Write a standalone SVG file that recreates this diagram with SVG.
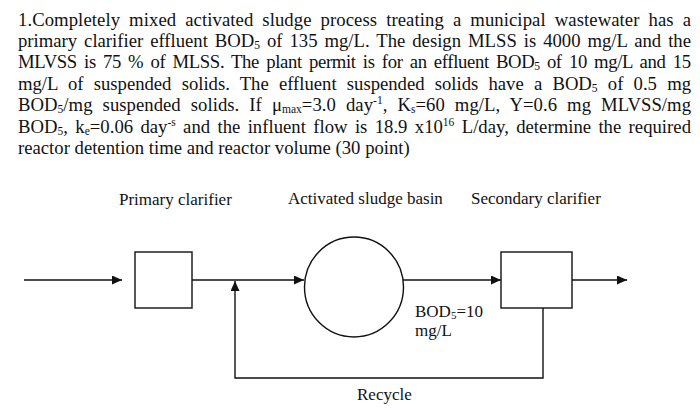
<svg xmlns="http://www.w3.org/2000/svg" width="700" height="410" viewBox="0 0 700 410">
<style>
.t{font-family:"Liberation Serif","Times New Roman",serif;font-size:18.7px;fill:#111}
.l{font-family:"Liberation Serif","Times New Roman",serif;font-size:17px;fill:#111}
.sub{font-size:11.5px}
.ln{fill:none;stroke:#111;stroke-width:1.4}
.box{fill:#fff;stroke:#111;stroke-width:1.4}
</style>
<defs>
<marker id="ah" markerUnits="userSpaceOnUse" markerWidth="10" markerHeight="9" refX="10" refY="4.5" orient="auto" viewBox="0 0 10 9">
<path d="M0,0 L10,4.5 L0,9 z" fill="#111"/>
</marker>
</defs>
<rect width="700" height="410" fill="#fff"/>
<g id="question">
<text class="t" x="18" y="26" word-spacing="4.3" textLength="673" lengthAdjust="spacing">1.Completely mixed activated sludge process treating a municipal wastewater has a</text>
<text class="t" x="18" y="47" word-spacing="2.3" textLength="673" lengthAdjust="spacing">primary clarifier effluent BOD<tspan class="sub" dy="2">5</tspan><tspan dy="-2"> of 135 mg/L. The design MLSS is 4000 mg/L and the</tspan></text>
<text class="t" x="18" y="68" word-spacing="2.8" textLength="673" lengthAdjust="spacing">MLVSS is 75 % of MLSS. The plant permit is for an effluent BOD<tspan class="sub" dy="2">5</tspan><tspan dy="-2"> of 10 mg/L and 15</tspan></text>
<text class="t" x="18" y="89.5" word-spacing="5.6" textLength="673" lengthAdjust="spacing">mg/L of suspended solids. The effluent suspended solids have a BOD<tspan class="sub" dy="2">5</tspan><tspan dy="-2"> of 0.5 mg</tspan></text>
<text class="t" x="18" y="111" word-spacing="5.3" textLength="673" lengthAdjust="spacing">BOD<tspan class="sub" dy="2">5</tspan><tspan dy="-2">/mg suspended solids. If μ</tspan><tspan class="sub" dy="2">max</tspan><tspan dy="-2">=3.0 day</tspan><tspan class="sub" dy="-7">-1</tspan><tspan dy="7">, K</tspan><tspan class="sub" dy="2">s</tspan><tspan dy="-2">=60 mg/L, Y=0.6 mg MLVSS/mg</tspan></text>
<text class="t" x="18" y="132.5" word-spacing="2.6" textLength="673" lengthAdjust="spacing">BOD<tspan class="sub" dy="2">5</tspan><tspan dy="-2">, k</tspan><tspan class="sub" dy="2">e</tspan><tspan dy="-2">=0.06 day</tspan><tspan class="sub" dy="-7">-s</tspan><tspan dy="7"> and the influent flow is 18.9 x10</tspan><tspan class="sub" dy="-7">16</tspan><tspan dy="7"> L/day, determine the required</tspan></text>
<text class="t" x="18" y="154">reactor detention time and reactor volume (30 point)</text>
</g>
<g id="connectors">
<line class="ln" x1="24" y1="280" x2="122" y2="280" marker-end="url(#ah)"/>
<line class="ln" x1="192" y1="280" x2="304" y2="280" marker-end="url(#ah)"/>
<line class="ln" x1="403" y1="280" x2="501" y2="280" marker-end="url(#ah)"/>
<line class="ln" x1="572" y1="280" x2="627" y2="280" marker-end="url(#ah)"/>
<polyline class="ln" points="543,308 543,378 235,378 235,281" marker-end="url(#ah)"/>
</g>
<g id="primary-clarifier">
<rect class="box" x="135" y="252" width="57" height="56"/>
<text class="l" x="119" y="205">Primary clarifier</text>
</g>
<g id="activated-sludge-basin">
<ellipse class="box" cx="354" cy="287" rx="49.5" ry="50"/>
<text class="l" x="288" y="204">Activated sludge basin</text>
</g>
<g id="secondary-clarifier">
<rect class="box" x="501" y="252" width="71" height="56"/>
<text class="l" x="471" y="204">Secondary clarifier</text>
</g>
<g id="labels">
<text class="l" x="415" y="317">BOD<tspan font-size="11" dy="2">5</tspan><tspan dy="-2">=10</tspan></text>
<text class="l" x="415" y="336">mg/L</text>
<text class="l" x="357" y="400">Recycle</text>
</g>
</svg>
